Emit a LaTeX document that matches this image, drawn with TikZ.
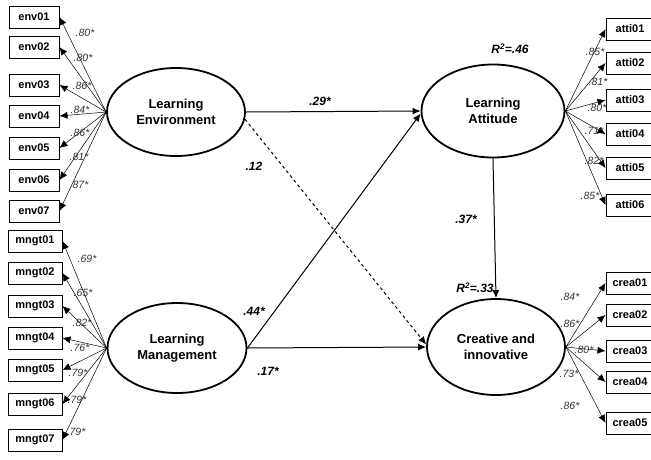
\documentclass[tikz,border=0pt]{standalone}
\usepackage{fontspec}
\setmainfont{Liberation Sans}
\usetikzlibrary{shapes.geometric,arrows.meta}
\tikzset{
  ind/.style={draw, line width=1pt, minimum width=50pt, minimum height=22pt, inner sep=1pt, font=\bfseries\fontsize{11}{12}\selectfont},
  lat/.style={draw, line width=1.8pt, ellipse, inner sep=0pt, font=\bfseries\fontsize{13}{16}\selectfont, align=center},
  ld/.style={-{Latex[length=8pt,width=7pt]}, line width=0.5pt},
  pth/.style={-{Latex[length=8pt,width=7pt]}, line width=1pt},
  lab/.style={font=\itshape\fontsize{10.5}{12}\selectfont, text=black!80, inner sep=0pt},
  coef/.style={font=\bfseries\itshape\fontsize{12}{14}\selectfont, inner sep=0pt}
}
\begin{document}
\begin{tikzpicture}[x=1pt,y=-1pt]
\useasboundingbox (0,0) rectangle (651,459);
% latent variables
\node[lat, minimum width=138pt, minimum height=88pt] (LE) at (176,112) {Learning\\Environment};
\node[lat, minimum width=139pt, minimum height=90pt] (LM) at (177,348) {Learning\\Management};
\node[lat, minimum width=143pt, minimum height=93pt] (LA) at (493,111) {Learning\\Attitude};
\node[lat, minimum width=138pt, minimum height=96pt] (CI) at (496,347) {Creative and\\innovative};
% indicators env
\foreach \n/\y in {01/17,02/47,03/85,04/116,05/148,06/180,07/211}{
  \node[ind] (env\n) at (34,\y) {env\n};
  \draw[ld] (LE.west) -- (env\n.east);
}
\foreach \n/\y in {01/241,02/273,03/306,04/338,05/370,06/404,07/440}{
  \node[ind, minimum width=54pt] (mngt\n) at (35,\y) {mngt\n};
  \draw[ld] (LM.west) -- (mngt\n.east);
}
\foreach \n/\y in {01/29,02/63,03/100,04/134,05/168,06/205}{
  \node[ind, minimum width=48pt] (atti\n) at (630,\y) {atti\n};
  \draw[ld] (LA.east) -- (atti\n.west);
}
\foreach \n/\y in {01/283,02/315,03/351,04/382,05/423}{
  \node[ind, minimum width=48pt] (crea\n) at (630,\y) {crea\n};
  \draw[ld] (CI.east) -- (crea\n.west);
}
% loadings left
\foreach \t/\x/\y [count=\i] in {.80*/85/33,.80*/83/58,.86*/82/86,.84*/80/110,.86*/80/133,.81*/79/157,.87*/79/185}{
  \node[lab] (le\i) at (\x,\y) {\t};
}
\foreach \t/\x/\y [count=\i] in {.69*/87/259,.65*/83/293,.82*/82/323,.76*/80/348,.79*/78/373,.79*/77/400,.79*/76/432}{
  \node[lab] (lm\i) at (\x,\y) {\t};
}
\foreach \t/\x/\y [count=\i] in {.85*/595/52,.81*/598/82,.80*/597/108,.71*/594/131,.82*/594/161,.85*/590/196}{
  \node[lab] (la\i) at (\x,\y) {\t};
}
\foreach \t/\x/\y [count=\i] in {.84*/570/297,.86*/570/324,.80*/584/350,.73*/569/374,.86*/570/406}{
  \node[lab] (lc\i) at (\x,\y) {\t};
}
% structural paths
\draw[pth] (LE.east) -- (LA.west);
\draw[pth, dashed] (LE.-6) -- (CI.178);
\draw[pth] (LM.east) -- (LA.-178);
\draw[pth] (LM.east) -- (CI.west);
\draw[pth] (LA.south) -- (CI.north);
\node[coef] (c1) at (320,101) {.29*};
\node[coef] (c2) at (254,166) {.12};
\node[coef] (c3) at (254,311) {.44*};
\node[coef] (c4) at (268,371) {.17*};
\node[coef] (c5) at (466,219) {.37*};
\node[coef] (r1) at (510,49) {R\textsuperscript{2}=.46};
\node[coef] (r2) at (475,288) {R\textsuperscript{2}=.33};
\end{tikzpicture}
\end{document}
